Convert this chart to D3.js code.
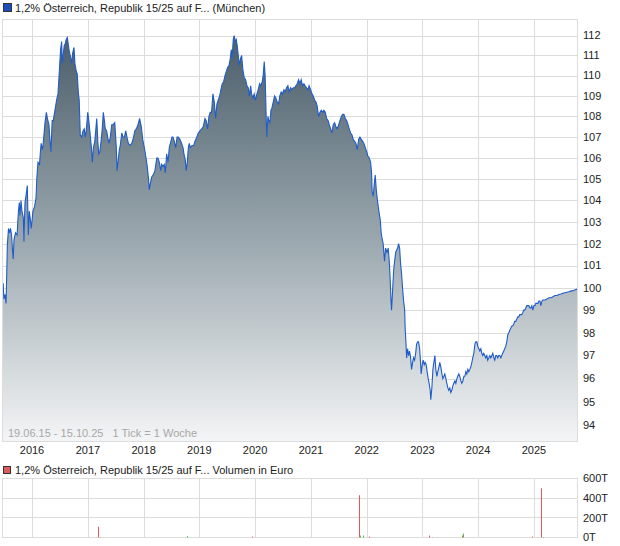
<!DOCTYPE html>
<html><head><meta charset="utf-8">
<script src="https://cdn.jsdelivr.net/npm/d3@7/dist/d3.min.js"></script>
<style>
body{margin:0;background:#fff;}
svg{display:block;font-family:"Liberation Sans",Arial,sans-serif;}
</style></head><body><svg id="c" width="620" height="546"></svg>
<script>
const title = "1,2% Österreich, Republik 15/25 auf F... (München)";
const volTitle = "1,2% Österreich, Republik 15/25 auf F... Volumen in Euro";
const rangeNote = "19.06.15 - 15.10.25   1 Tick = 1 Woche";
const dateStart = "2015-06-19", dateEnd = "2025-10-15";
const yearTicks = [2016,2017,2018,2019,2020,2021,2022,2023,2024,2025];
const priceTicks = [94,95,96,97,98,99,100,101,102,103,104,105,106,107,108,109,110,111,112];
const volTicks = [0,200000,400000,600000];
const volTickLabels = ["0T","200T","400T","600T"];

const priceDates = [
"2015-06-19","2015-06-26","2015-07-01","2015-07-08","2015-07-15","2015-07-19","2015-07-23","2015-07-31","2015-08-07","2015-08-13","2015-08-20","2015-08-27","2015-08-31","2015-09-05","2015-09-15","2015-09-25","2015-10-04","2015-10-10","2015-10-14","2015-10-21","2015-10-27","2015-11-05","2015-11-09","2015-11-16","2015-11-24","2015-12-01","2015-12-08","2015-12-14","2015-12-21","2015-12-27",
"2016-01-07","2016-01-17","2016-01-27","2016-02-02","2016-02-09","2016-02-19","2016-02-25","2016-03-01","2016-03-08","2016-03-13","2016-03-19","2016-03-26","2016-04-04","2016-04-11","2016-04-21","2016-04-27","2016-05-04","2016-05-12","2016-05-19","2016-05-30","2016-06-10","2016-06-19","2016-06-27","2016-07-06","2016-07-13","2016-07-17","2016-07-24","2016-07-30","2016-08-06","2016-08-12","2016-08-19","2016-08-25","2016-09-01","2016-09-10","2016-09-17","2016-09-23","2016-10-02","2016-10-08","2016-10-17","2016-10-23","2016-10-30","2016-11-05","2016-11-12","2016-11-21","2016-11-30","2016-12-08","2016-12-15","2016-12-21","2016-12-31",
"2017-01-07","2017-01-15","2017-01-24","2017-01-30","2017-02-06","2017-02-15","2017-02-21","2017-02-28","2017-03-07","2017-03-13","2017-03-20","2017-03-28","2017-04-04","2017-04-12","2017-04-19","2017-04-25","2017-05-04","2017-05-13","2017-05-19","2017-05-28","2017-06-06","2017-06-15","2017-06-26","2017-07-06","2017-07-11","2017-07-17","2017-07-26","2017-08-01","2017-08-11","2017-08-19","2017-08-28","2017-09-06","2017-09-14","2017-09-23","2017-10-04","2017-10-15","2017-10-24","2017-11-04","2017-11-14","2017-11-25","2017-12-06","2017-12-17","2017-12-26",
"2018-01-03","2018-01-15","2018-01-25","2018-02-02","2018-02-07","2018-02-14","2018-02-23","2018-03-05","2018-03-16","2018-03-28","2018-04-05","2018-04-14","2018-04-23","2018-04-29","2018-05-08","2018-05-16","2018-05-23","2018-06-01","2018-06-10","2018-06-18","2018-06-25","2018-07-06","2018-07-12","2018-07-21","2018-07-30","2018-08-08","2018-08-16","2018-08-27","2018-09-07","2018-09-16","2018-09-22","2018-10-01","2018-10-07","2018-10-14","2018-10-21","2018-10-27","2018-11-03","2018-11-14","2018-11-25","2018-12-03","2018-12-15","2018-12-25",
"2019-01-05","2019-01-16","2019-01-26","2019-02-07","2019-02-15","2019-02-24","2019-03-05","2019-03-13","2019-03-22","2019-03-31","2019-04-09","2019-04-18","2019-04-26","2019-05-05","2019-05-14","2019-05-22","2019-05-31","2019-06-09","2019-06-18","2019-06-26","2019-07-05","2019-07-14","2019-07-22","2019-07-29","2019-08-04","2019-08-11","2019-08-17","2019-08-24","2019-08-31","2019-09-06","2019-09-13","2019-09-19","2019-09-26","2019-10-05","2019-10-13","2019-10-22","2019-10-31","2019-11-09","2019-11-17","2019-11-24","2019-12-03","2019-12-09","2019-12-18","2019-12-26",
"2020-01-04","2020-01-13","2020-01-21","2020-01-31","2020-02-08","2020-02-17","2020-02-23","2020-03-01","2020-03-07","2020-03-14","2020-03-18","2020-03-25","2020-03-31","2020-04-07","2020-04-14","2020-04-20","2020-04-29","2020-05-08","2020-05-16","2020-05-25","2020-06-03","2020-06-11","2020-06-20","2020-06-29","2020-07-08","2020-07-16","2020-07-25","2020-08-03","2020-08-11","2020-08-21","2020-08-29","2020-09-07","2020-09-16","2020-09-24","2020-10-03","2020-10-12","2020-10-21","2020-10-29","2020-11-07","2020-11-16","2020-11-24","2020-12-03","2020-12-12","2020-12-20","2020-12-30",
"2021-01-08","2021-01-16","2021-01-25","2021-02-03","2021-02-11","2021-02-20","2021-03-01","2021-03-10","2021-03-19","2021-03-27","2021-04-05","2021-04-14","2021-04-23","2021-05-01","2021-05-10","2021-05-19","2021-05-27","2021-06-05","2021-06-14","2021-06-22","2021-07-02","2021-07-10","2021-07-19","2021-07-28","2021-08-05","2021-08-14","2021-08-23","2021-09-01","2021-09-09","2021-09-18","2021-09-27","2021-10-05","2021-10-14","2021-10-23","2021-10-31","2021-11-10","2021-11-18","2021-11-27","2021-12-06","2021-12-14","2021-12-23",
"2022-01-01","2022-01-09","2022-01-18","2022-01-27","2022-02-02","2022-02-06","2022-02-13","2022-02-19","2022-02-26","2022-03-05","2022-03-11","2022-03-18","2022-03-24","2022-03-31","2022-04-06","2022-04-13","2022-04-19","2022-04-28","2022-05-05","2022-05-14","2022-05-22","2022-05-29","2022-06-04","2022-06-09","2022-06-13","2022-06-20","2022-06-27","2022-07-03","2022-07-10","2022-07-16","2022-07-23","2022-07-29","2022-08-05","2022-08-11","2022-08-18","2022-08-24","2022-08-31","2022-09-07","2022-09-10","2022-09-15","2022-09-20","2022-09-26","2022-10-03","2022-10-09","2022-10-16","2022-10-22","2022-10-29","2022-11-04","2022-11-11","2022-11-18","2022-11-24","2022-12-01","2022-12-07","2022-12-14","2022-12-20","2022-12-24","2022-12-31",
"2023-01-06","2023-01-13","2023-01-19","2023-01-26","2023-02-01","2023-02-08","2023-02-14","2023-02-21","2023-02-25","2023-03-04","2023-03-11","2023-03-17","2023-03-24","2023-03-30","2023-04-06","2023-04-12","2023-04-19","2023-04-25","2023-05-02","2023-05-09","2023-05-15","2023-05-22","2023-05-28","2023-06-04","2023-06-10","2023-06-17","2023-06-23","2023-06-30","2023-07-06","2023-07-13","2023-07-20","2023-07-26","2023-08-02","2023-08-08","2023-08-15","2023-08-21","2023-08-28","2023-09-03","2023-09-10","2023-09-16","2023-09-23","2023-09-30","2023-10-06","2023-10-13","2023-10-19","2023-10-26","2023-11-01","2023-11-08","2023-11-14","2023-11-21","2023-11-27","2023-12-04","2023-12-11","2023-12-17","2023-12-24","2023-12-30",
"2024-01-06","2024-01-12","2024-01-19","2024-01-25","2024-02-01","2024-02-07","2024-02-14","2024-02-20","2024-02-27","2024-03-04","2024-03-11","2024-03-18","2024-03-24","2024-03-31","2024-04-06","2024-04-13","2024-04-19","2024-04-26","2024-05-02","2024-05-09","2024-05-15","2024-05-22","2024-05-29","2024-06-04","2024-06-10","2024-06-17","2024-06-23","2024-06-30","2024-07-07","2024-07-13","2024-07-20","2024-07-26","2024-08-02","2024-08-09","2024-08-15","2024-08-22","2024-08-28","2024-09-04","2024-09-10","2024-09-17","2024-09-23","2024-09-30","2024-10-07","2024-10-13","2024-10-20","2024-10-26","2024-11-02","2024-11-08","2024-11-15","2024-11-21","2024-11-28","2024-12-05","2024-12-11","2024-12-18","2024-12-24",
"2025-01-01","2025-01-07","2025-01-13","2025-01-20","2025-01-27","2025-02-02","2025-02-09","2025-02-15","2025-02-22","2025-02-28","2025-03-13","2025-03-27","2025-04-09","2025-04-22","2025-05-05","2025-05-18","2025-05-31","2025-06-13","2025-06-26","2025-07-09","2025-07-22","2025-08-04","2025-08-17","2025-08-30","2025-09-13","2025-09-25","2025-10-15"
];
const prices = [
100.1,100.2,99.5,99.7,99.3,100.5,101.9,102.7,102.5,102.7,102.4,101.6,101.3,102.2,102.5,102.4,103.5,103.9,103.3,104.0,103.5,103.2,102.1,103.9,104.3,104.7,102.4,103.5,103.1,102.7,
103.5,103.7,104.1,105.1,105.8,105.7,106.3,106.7,106.4,106.6,107.1,107.7,108.2,107.9,107.6,106.9,106.3,107.8,107.8,108.3,108.8,109.1,110.1,111.3,111.7,110.6,111.1,111.5,111.6,111.8,111.9,111.6,111.2,110.9,110.6,111.1,111.4,110.6,110.2,110.1,109.2,108.8,107.1,107.0,107.3,107.4,107.0,107.3,108.2,
107.8,107.2,106.5,105.8,106.5,106.8,107.3,107.9,106.8,106.2,106.3,106.8,107.3,108.2,107.8,107.4,107.3,106.9,106.7,107.0,107.6,107.6,107.7,106.5,105.4,105.8,106.4,106.6,107.2,107.0,107.0,107.3,107.0,106.7,106.6,106.7,106.9,107.3,107.4,107.6,107.9,107.5,106.9,
106.6,106.1,105.6,105.0,104.5,104.8,105.1,105.2,105.4,106.0,106.0,105.8,105.4,105.7,105.6,105.7,105.3,106.2,105.8,106.5,106.7,107.0,107.0,106.8,106.5,107.0,107.0,106.9,106.7,106.5,106.2,105.9,105.4,105.8,106.5,106.7,106.5,106.6,106.6,106.8,107.0,107.2,
107.3,107.4,107.5,107.9,107.8,107.4,108.0,108.2,108.2,109.1,108.7,107.9,108.6,108.8,109.0,109.3,109.6,109.7,110.0,110.2,110.4,110.5,110.8,111.3,110.9,111.8,112.0,111.7,111.8,111.5,111.0,110.5,110.8,111.0,110.3,109.9,109.8,109.5,109.4,109.0,109.5,109.1,108.9,109.1,
108.8,109.1,109.3,109.6,109.5,109.7,110.0,110.7,110.0,107.9,107.0,108.0,107.8,107.7,108.3,108.4,108.7,109.0,108.9,108.7,108.6,109.0,109.2,109.1,109.3,109.2,109.4,109.5,109.2,109.4,109.3,109.4,109.4,109.5,109.6,109.8,109.6,109.8,109.5,109.6,109.5,109.4,109.3,109.5,109.3,
109.1,109.0,108.8,108.7,108.5,108.0,108.2,108.3,108.2,108.3,108.2,107.9,107.8,107.6,107.4,107.2,107.6,107.7,107.5,107.4,107.6,107.8,108.0,108.1,108.1,107.9,107.8,107.6,107.4,107.2,107.1,106.9,106.8,106.7,106.4,106.9,107.0,106.9,106.8,106.7,106.5,
106.3,106.1,106.0,105.8,105.3,104.4,104.2,104.7,105.2,104.5,104.1,103.7,103.4,103.1,102.5,102.2,102.0,101.2,101.8,101.6,101.8,101.2,100.4,99.5,99.0,99.9,100.8,101.2,101.6,101.7,101.8,102.0,101.8,101.1,100.6,100.0,99.4,99.0,98.2,97.6,96.9,97.3,97.0,97.2,96.9,96.4,96.7,96.9,96.8,97.1,97.5,97.6,97.6,97.3,96.7,96.2,96.6,
96.8,96.6,96.7,96.6,96.3,96.0,95.8,95.5,95.1,95.6,96.4,96.7,97.0,96.4,96.1,96.3,96.5,96.7,96.5,96.2,96.0,96.1,96.2,96.0,95.8,95.6,95.5,95.6,95.4,95.5,95.7,95.8,95.9,95.8,96.0,96.1,96.2,96.1,95.9,95.8,95.9,96.1,96.1,96.3,96.2,96.4,96.3,96.4,96.5,96.7,96.9,97.1,97.5,97.6,97.6,97.4,
97.3,97.2,97.3,97.1,97.0,97.1,97.0,96.9,97.0,96.8,96.9,97.0,96.9,97.0,97.1,96.9,96.8,97.0,97.0,96.9,97.0,97.0,96.9,97.0,97.1,97.2,97.3,97.4,97.6,97.9,98.0,98.1,98.2,98.3,98.3,98.4,98.5,98.5,98.6,98.7,98.7,98.8,98.8,98.8,98.9,99.0,99.0,99.1,99.2,99.2,99.2,99.1,99.1,99.2,99.0,
99.2,99.2,99.3,99.3,99.3,99.4,99.4,99.2,99.4,99.45,99.45,99.5,99.55,99.55,99.6,99.65,99.65,99.7,99.72,99.75,99.78,99.8,99.82,99.85,99.87,99.9,99.95
];

const volDates = ["2017-03-06","2017-03-24","2018-10-12","2019-12-11","2021-11-12","2021-11-21","2021-12-08","2022-01-16","2023-02-12","2023-03-04","2023-09-15","2023-09-22","2024-12-18","2025-02-15","2025-02-28"];
const volValues = [110000,5000,15000,10000,430000,20000,20000,10000,20000,3000,20000,40000,10000,500000,5000];
const volDirection = ["down","up","up","down","down","up","up","down","down","up","down","up","down","down","up"];

const parse = d3.timeParse("%Y-%m-%d");
const svg = d3.select("#c");
const PL = 2.5, PR = 577.5, PT = 19.5, PB = 441.5;
const VT = 478.5, VB = 537.5;
const gridCol = "#dcdcdc";

const x = d3.scaleTime().domain([parse(dateStart), parse(dateEnd)]).range([2.1, 577.8]);
const y = d3.scaleLog().domain([94, 112]).range([425.5, 35.5]);
const vy = d3.scaleLinear().domain([0, 600000]).range([VB, VT]);

const priceData = d3.zip(priceDates, prices).map(([d, v]) => ({date: parse(d), value: v}));
const volData = volDates.map((d, i) => ({date: parse(d), value: volValues[i], dir: volDirection[i]}));
const yearDates = yearTicks.map(yy => new Date(yy, 0, 1));
const px = v => Math.round(v) + 0.5;

// legend top
svg.append("rect").attr("x", 3.5).attr("y", 3.5).attr("width", 8).attr("height", 8)
  .attr("fill", "#1d4fb8").attr("stroke", "#333").attr("stroke-width", 1);
svg.append("text").attr("x", 15).attr("y", 11.5).attr("font-size", 11).attr("fill", "#222").text(title);

// main grid
const g = svg.append("g");
g.selectAll("line.h").data(priceTicks).join("line")
  .attr("x1", PL).attr("x2", PR).attr("y1", d => px(y(d))).attr("y2", d => px(y(d)))
  .attr("stroke", gridCol);
g.selectAll("line.v").data(yearDates).join("line")
  .attr("x1", d => px(x(d))).attr("x2", d => px(x(d))).attr("y1", PT).attr("y2", PB)
  .attr("stroke", gridCol);

// gradient
const defs = svg.append("defs");
const grad = defs.append("linearGradient").attr("id", "ag").attr("gradientUnits", "userSpaceOnUse")
  .attr("x1", 0).attr("x2", 0).attr("y1", 36).attr("y2", PB);
grad.append("stop").attr("offset", 0).attr("stop-color", "#4b5e6a");
grad.append("stop").attr("offset", 0.5).attr("stop-color", "#9aa7ae");
grad.append("stop").attr("offset", 1).attr("stop-color", "#f4f5f6");
defs.append("clipPath").attr("id", "pc").append("rect").attr("x", PL).attr("y", PT).attr("width", PR - PL).attr("height", PB - PT);

const area = d3.area().x(d => x(d.date)).y0(PB).y1(d => y(d.value));
const line = d3.line().x(d => x(d.date)).y(d => y(d.value));
const pg = svg.append("g").attr("clip-path", "url(#pc)");
pg.append("path").datum(priceData).attr("d", area).attr("fill", "url(#ag)");
pg.append("path").datum(priceData).attr("d", line).attr("fill", "none")
  .attr("stroke", "#1f5cc8").attr("stroke-width", 1.1).attr("stroke-linejoin", "miter");

// frame
svg.append("rect").attr("x", PL).attr("y", PT).attr("width", PR - PL).attr("height", PB - PT)
  .attr("fill", "none").attr("stroke", gridCol);

// note
svg.append("text").attr("x", 8).attr("y", 437).attr("font-size", 11).attr("fill", "#a8a8a8")
  .attr("xml:space", "preserve").style("white-space", "pre").text(rangeNote);

// y labels
svg.selectAll("text.yl").data(priceTicks).join("text").attr("class", "yl")
  .attr("x", 583).attr("y", d => y(d)).attr("dy", "0.35em").attr("font-size", 11).attr("fill", "#222")
  .text(d => d);

// x labels
svg.selectAll("text.xl").data(yearDates).join("text").attr("class", "xl")
  .attr("x", d => x(d)).attr("y", 453.5).attr("text-anchor", "middle").attr("font-size", 11).attr("fill", "#222")
  .text(d => d.getFullYear());

// volume legend
svg.append("rect").attr("x", 3.5).attr("y", 466.5).attr("width", 7).attr("height", 7)
  .attr("fill", "#dd5c5c").attr("stroke", "#333");
svg.append("text").attr("x", 15).attr("y", 474).attr("font-size", 11).attr("fill", "#222").text(volTitle);

// volume grid
const vg = svg.append("g");
vg.selectAll("line.h").data(volTicks).join("line")
  .attr("x1", PL).attr("x2", PR).attr("y1", d => px(vy(d) - 0.5)).attr("y2", d => px(vy(d) - 0.5))
  .attr("stroke", gridCol);
vg.selectAll("line.v").data(yearDates).join("line")
  .attr("x1", d => px(x(d))).attr("x2", d => px(x(d))).attr("y1", VT).attr("y2", VB)
  .attr("stroke", gridCol);
svg.append("rect").attr("x", PL).attr("y", VT).attr("width", PR - PL).attr("height", VB - VT)
  .attr("fill", "none").attr("stroke", gridCol);

svg.selectAll("rect.vb").data(volData).join("rect").attr("class", "vb")
  .attr("x", d => Math.round(x(d.date))).attr("width", 1)
  .attr("y", d => vy(d.value)).attr("height", d => VB - vy(d.value))
  .attr("fill", d => d.dir === "down" ? "#e05a5a" : "#4cc24c");

svg.selectAll("text.vl").data(volTicks).join("text").attr("class", "vl")
  .attr("x", 583).attr("y", d => vy(d)).attr("dy", "0.35em").attr("font-size", 11).attr("fill", "#222")
  .text((d, i) => volTickLabels[i]);
</script></body></html>
